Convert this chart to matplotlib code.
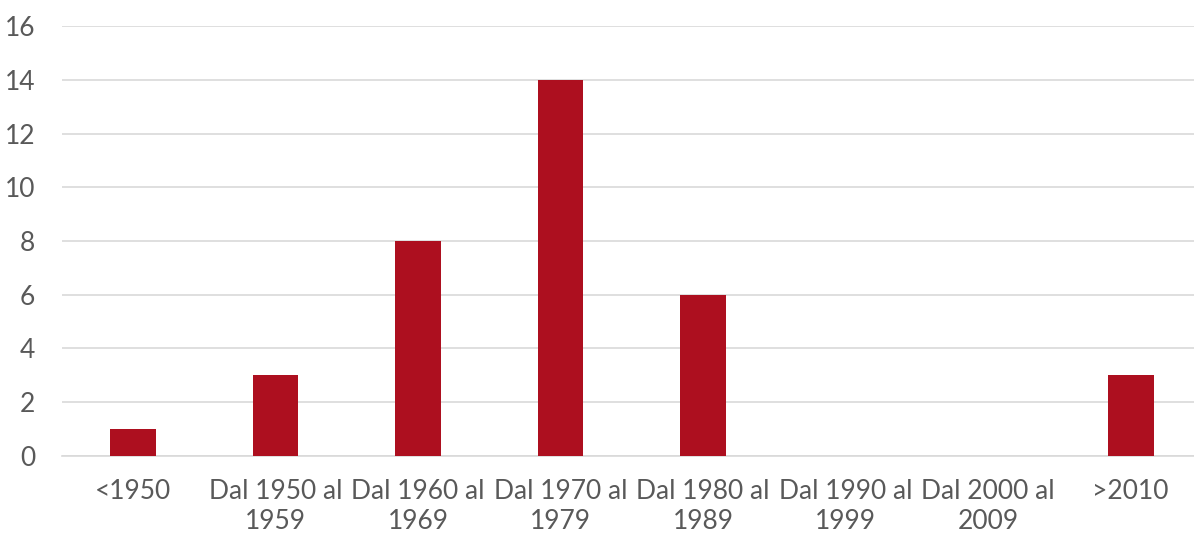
import matplotlib
matplotlib.use("Agg")
import matplotlib.pyplot as plt

categories = ["<1950", "Dal 1950 al\n1959", "Dal 1960 al\n1969", "Dal 1970 al\n1979",
              "Dal 1980 al\n1989", "Dal 1990 al\n1999", "Dal 2000 al\n2009", ">2010"]
values = [1, 3, 8, 14, 6, 0, 0, 3]
yticks = [0, 2, 4, 6, 8, 10, 12, 14, 16]

plt.rcParams['font.family'] = ['Lato', 'DejaVu Sans']

fig = plt.figure(figsize=(11.94, 5.35), dpi=100)
ax = fig.add_axes([0.0517, 0.148, 0.955, 0.803])

x = range(len(categories))
ax.bar(x, values, width=0.32, color="#AD0F1F", zorder=3)
ax.set_xlim(-0.5, len(categories) - 0.5)
ax.set_ylim(0, 16)
ax.set_yticks(yticks)
ax.set_xticks(list(x))
ax.set_xticklabels(categories, fontsize=19, color="#595959", linespacing=1.25)
ax.tick_params(axis='y', labelsize=19, labelcolor="#595959", length=0, pad=19)
ax.tick_params(axis='x', length=0, pad=17)
ax.grid(axis='y', color="#D9D9D9", linewidth=1.2, zorder=0)
for s in ["top", "right", "left"]:
    ax.spines[s].set_visible(False)
ax.spines["bottom"].set_color("#D9D9D9")
ax.spines["bottom"].set_linewidth(1.2)

fig.savefig("out.png", dpi=100, facecolor="white")
